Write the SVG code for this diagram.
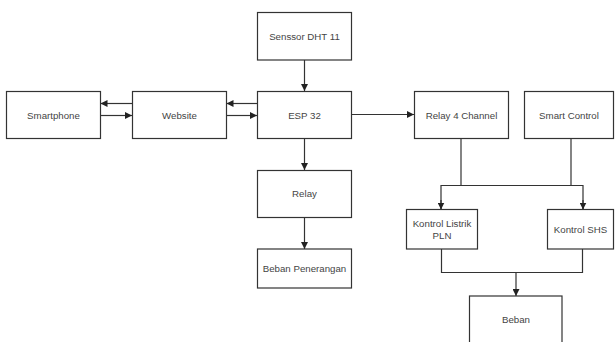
<svg xmlns="http://www.w3.org/2000/svg" width="615" height="342" viewBox="0 0 615 342">
<defs>
<style>
.box{fill:#fff;stroke:#333;stroke-width:1.2}
.lbl{font-family:"Liberation Sans",Arial,sans-serif;font-size:9.7px;fill:#444;text-anchor:middle;dominant-baseline:central}
.ln{fill:none;stroke:#333;stroke-width:1.2}
</style>
<marker id="ah" viewBox="0 0 10 10" refX="10" refY="5" markerWidth="7" markerHeight="7" markerUnits="userSpaceOnUse" orient="auto">
<path d="M0,0 L10,5 L0,10 z" fill="#222"/>
</marker>
</defs>
<rect width="615" height="342" fill="#fff"/>
<g id="connectors">
<line class="ln" x1="304.5" y1="60" x2="304.5" y2="91" marker-end="url(#ah)"/>
<line class="ln" x1="257" y1="103.5" x2="226.5" y2="103.5" marker-end="url(#ah)"/>
<line class="ln" x1="226.5" y1="115.5" x2="257" y2="115.5" marker-end="url(#ah)"/>
<line class="ln" x1="132" y1="103.5" x2="100.5" y2="103.5" marker-end="url(#ah)"/>
<line class="ln" x1="100.5" y1="115.5" x2="132" y2="115.5" marker-end="url(#ah)"/>
<line class="ln" x1="352" y1="114.5" x2="414" y2="114.5" marker-end="url(#ah)"/>
<line class="ln" x1="304.5" y1="138.5" x2="304.5" y2="170" marker-end="url(#ah)"/>
<line class="ln" x1="304.5" y1="217.5" x2="304.5" y2="249" marker-end="url(#ah)"/>
<polyline class="ln" points="461,138.5 461,185.5"/>
<polyline class="ln" points="571,138.5 571,185.5"/>
<polyline class="ln" points="441,209 441,185.5 583,185.5 583,209"/>
<line class="ln" x1="441" y1="200" x2="441" y2="209.5" marker-end="url(#ah)"/>
<line class="ln" x1="583" y1="200" x2="583" y2="209.5" marker-end="url(#ah)"/>
<polyline class="ln" points="441.5,249 441.5,272.5 582.5,272.5 582.5,249"/>
<line class="ln" x1="516" y1="272.5" x2="516" y2="296" marker-end="url(#ah)"/>
</g>
<g id="dht"><rect class="box" x="257.5" y="12.5" width="94" height="47.5"/><text class="lbl" x="304.5" y="36">Senssor DHT 11</text></g>
<g id="smartphone"><rect class="box" x="6.5" y="91.5" width="94" height="47"/><text class="lbl" x="53.5" y="115">Smartphone</text></g>
<g id="website"><rect class="box" x="132.5" y="91.5" width="94" height="47"/><text class="lbl" x="179.5" y="115">Website</text></g>
<g id="esp32"><rect class="box" x="257.5" y="91.5" width="94" height="47"/><text class="lbl" x="304.5" y="115">ESP 32</text></g>
<g id="relay4"><rect class="box" x="414.5" y="91.5" width="94" height="47"/><text class="lbl" x="461.5" y="115">Relay 4 Channel</text></g>
<g id="smartcontrol"><rect class="box" x="524.5" y="91.5" width="89" height="47"/><text class="lbl" x="569" y="115">Smart Control</text></g>
<g id="relay"><rect class="box" x="257.5" y="170.5" width="94" height="47"/><text class="lbl" x="304.5" y="193.5">Relay</text></g>
<g id="bebanpenerangan"><rect class="box" x="257.5" y="249" width="94" height="39"/><text class="lbl" x="304.5" y="268.5">Beban Penerangan</text></g>
<g id="kontrolpln"><rect class="box" x="406.5" y="209.5" width="71" height="39.5"/><text class="lbl" x="442" y="223">Kontrol Listrik</text><text class="lbl" x="442" y="235.5">PLN</text></g>
<g id="kontrolshs"><rect class="box" x="547.5" y="209.5" width="66" height="39.5"/><text class="lbl" x="580.5" y="229">Kontrol SHS</text></g>
<g id="beban"><rect class="box" x="469.5" y="296" width="92.5" height="60"/><text class="lbl" x="516" y="319">Beban</text></g>
</svg>
